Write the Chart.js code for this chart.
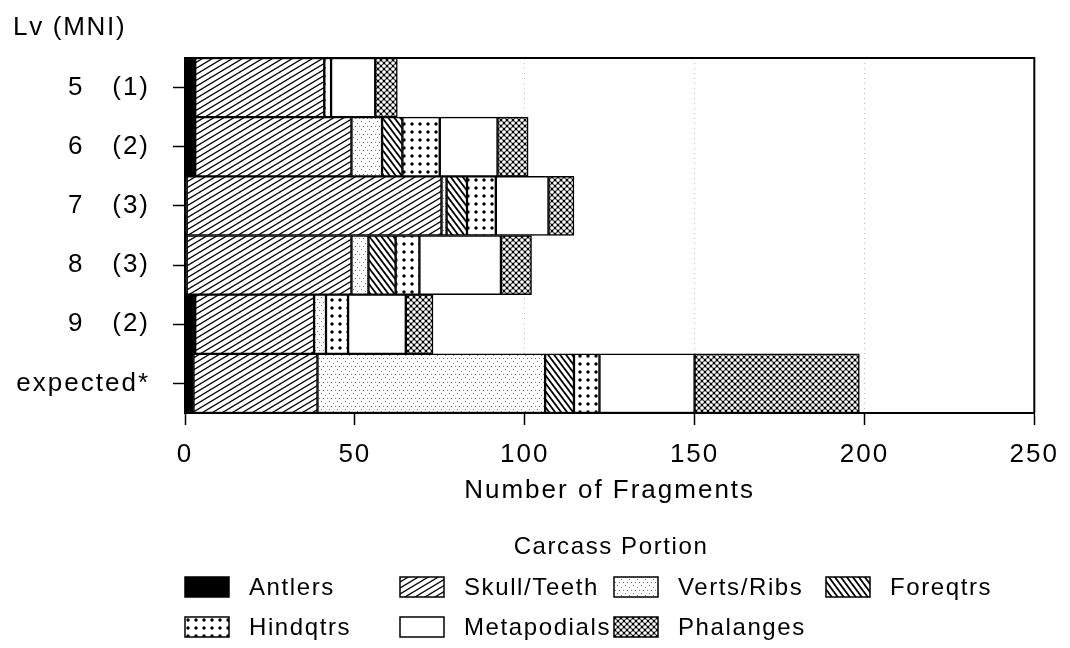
<!DOCTYPE html>
<html>
<head>
<meta charset="utf-8">
<script src="https://cdn.jsdelivr.net/npm/chart.js@4.4.1/dist/chart.umd.min.js"></script>
<style>
  html, body { margin: 0; padding: 0; background: #fff; }
  #wrap { width: 1070px; height: 648px; }
</style>
</head>
<body>
<div id="wrap"><canvas id="chart"></canvas></div>
<script>
// levels and their MNI
const levels = ['5', '6', '7', '8', '9', 'expected*'];
const mni = ['(1)', '(2)', '(3)', '(3)', '(2)', ''];

// fragment counts per carcass portion, one value per level
const antlers     = [3,   3,  0.5, 0.5, 3,   2.5];
const skullTeeth  = [38,  46, 75,  48.5, 35, 36.5];
const vertsRibs   = [0,   9,  1.5, 5,   3.5, 67];
const foreqtrs    = [0,   6,  6,   8,   0,   8.5];
const hindqtrs    = [2,   11, 8.5, 7,   6.5, 7.5];
const metapodials = [13,  17, 15.5, 24, 17,  28];
const phalanges   = [6.5, 9,  7.5, 9,   8,   48.5];

const xTicks = [0, 50, 100, 150, 200, 250];
const dottedGrid = [100, 150, 200];

const FONT = '"Liberation Sans", Arial, Helvetica, sans-serif';

// small tiles used as bar fills
function tile(w, h, paint) {
    const c = document.createElement('canvas');
    c.width = w;
    c.height = h;
    const g = c.getContext('2d');
    g.fillStyle = '#fff';
    g.fillRect(0, 0, w, h);
    paint(g, w, h);
    return g.createPattern(c, 'repeat');
}

const fills = {
    solid: '#000',
    slash: tile(10, 6, (g, w, h) => {
        g.strokeStyle = '#000';
        g.lineWidth = 1.3;
        for (const dx of [-w, 0, w]) {
            g.beginPath();
            g.moveTo(dx - w, 2 * h);
            g.lineTo(dx + 2 * w, -h);
            g.stroke();
        }
    }),
    stipple: tile(8, 8, (g) => {
        g.fillStyle = '#777';
        [[1, 1], [5, 3], [3, 6], [7, 6]].forEach(p => g.fillRect(p[0], p[1], 1, 1));
    }),
    backslash: tile(6, 8, (g, w, h) => {
        g.strokeStyle = '#000';
        g.lineWidth = 1.8;
        for (const dx of [-w, 0, w]) {
            g.beginPath();
            g.moveTo(dx - w, -h);
            g.lineTo(dx + 2 * w, 2 * h);
            g.stroke();
        }
    }),
    dots: tile(8, 8, (g) => {
        g.fillStyle = '#000';
        g.beginPath();
        g.arc(4, 4, 1.7, 0, Math.PI * 2);
        g.fill();
    }),
    blank: '#fff',
    mesh: tile(6, 6, (g, w, h) => {
        g.fillStyle = '#000';
        g.fillRect(0, 0, w, h);
        g.fillStyle = '#fff';
        [[0, 0], [w, 0], [0, h], [w, h], [w / 2, h / 2]].forEach(p => {
            g.beginPath();
            g.arc(p[0], p[1], 1.85, 0, Math.PI * 2);
            g.fill();
        });
    }),
};

const series = [
    { label: 'Antlers', data: antlers, fill: fills.solid },
    { label: 'Skull/Teeth', data: skullTeeth, fill: fills.slash },
    { label: 'Verts/Ribs', data: vertsRibs, fill: fills.stipple },
    { label: 'Foreqtrs', data: foreqtrs, fill: fills.backslash },
    { label: 'Hindqtrs', data: hindqtrs, fill: fills.dots },
    { label: 'Metapodials', data: metapodials, fill: fills.blank },
    { label: 'Phalanges', data: phalanges, fill: fills.mesh },
];

const datasets = series.map(s => ({
    label: s.label,
    data: s.data,
    backgroundColor: s.fill,
    borderColor: '#000',
    borderWidth: 1.5,
    borderSkipped: false,
    barPercentage: 1,
    categoryPercentage: 1,
}));

// wide letter spacing like the original plot
const spacing = {
    id: 'spacing',
    beforeDraw(chart) {
        chart.ctx.letterSpacing = '2px';
    }
};

// top and right edges of the plot box
const frame = {
    id: 'frame',
    afterDatasetsDraw(chart) {
        const { ctx, chartArea: a } = chart;
        ctx.save();
        ctx.strokeStyle = '#000';
        ctx.lineWidth = 2;
        ctx.beginPath();
        ctx.moveTo(a.left, a.top);
        ctx.lineTo(a.right, a.top);
        ctx.lineTo(a.right, a.bottom);
        ctx.stroke();
        ctx.restore();
    }
};

// legend in a 4 column grid + "Lv (MNI)" heading
const legendCols = [185, 400, 614, 826];
const legendRows = [587, 627];
const carcassLegend = {
    id: 'carcassLegend',
    afterDraw(chart) {
        const ctx = chart.ctx;
        ctx.save();
        ctx.fillStyle = '#000';
        ctx.textBaseline = 'middle';

        ctx.font = '26px ' + FONT;
        ctx.letterSpacing = '1.7px';
        ctx.textAlign = 'left';
        ctx.fillText('Lv (MNI)', 13, 28);

        ctx.font = '24px ' + FONT;
        ctx.letterSpacing = '1.6px';
        ctx.textAlign = 'center';
        ctx.fillText('Carcass Portion', 611, 547);

        ctx.textAlign = 'left';
        chart.data.datasets.forEach((ds, i) => {
            const bx = legendCols[i % 4];
            const by = legendRows[Math.floor(i / 4)];
            ctx.fillStyle = ds.backgroundColor;
            ctx.fillRect(bx, by - 10, 44, 20);
            ctx.lineWidth = 1.5;
            ctx.strokeStyle = '#000';
            ctx.strokeRect(bx, by - 10, 44, 20);
            ctx.fillStyle = '#000';
            ctx.fillText(ds.label, bx + 64, by + 1);
        });
        ctx.restore();
    }
};

new Chart(document.getElementById('chart'), {
    type: 'bar',
    data: {
        labels: levels.map((l, i) => mni[i] ? l + '   ' + mni[i] : l),
        datasets: datasets,
    },
    options: {
        indexAxis: 'y',
        responsive: true,
        maintainAspectRatio: false,
        animation: false,
        layout: { padding: { top: 58, right: 33, bottom: 135, left: 0 } },
        plugins: {
            legend: { display: false },
            tooltip: { enabled: false },
        },
        scales: {
            x: {
                stacked: true,
                min: 0,
                max: 250,
                afterBuildTicks: (s) => { s.ticks = xTicks.map(v => ({ value: v })); },
                afterFit: (s) => { s.height = 100; },
                grid: {
                    color: (c) => dottedGrid.includes(c.tick && c.tick.value) ? '#bdbdbd' : 'rgba(0,0,0,0)',
                    lineWidth: 1,
                    tickColor: '#000',
                    tickLength: 12,
                    tickWidth: 1.5,
                    tickBorderDash: [],
                },
                border: { display: true, color: '#000', width: 2, dash: [1, 4], z: 1 },
                ticks: {
                    color: '#000',
                    font: { family: FONT, size: 26 },
                    padding: 14,
                    maxRotation: 0,
                },
                title: {
                    display: true,
                    text: 'Number of Fragments',
                    color: '#000',
                    font: { family: FONT, size: 26 },
                    padding: { top: 0, bottom: 7 },
                },
            },
            y: {
                stacked: true,
                offset: true,
                afterFit: (s) => { s.width = 185; },
                grid: {
                    offset: false,
                    drawOnChartArea: false,
                    drawTicks: true,
                    tickLength: 12,
                    tickColor: '#000',
                    tickWidth: 1.5,
                },
                border: { display: true, color: '#000', width: 2, z: 1 },
                ticks: {
                    color: '#000',
                    font: { family: FONT, size: 26 },
                    padding: 23,
                    autoSkip: false,
                },
            },
        },
    },
    plugins: [spacing, frame, carcassLegend],
});
</script>
</body>
</html>
